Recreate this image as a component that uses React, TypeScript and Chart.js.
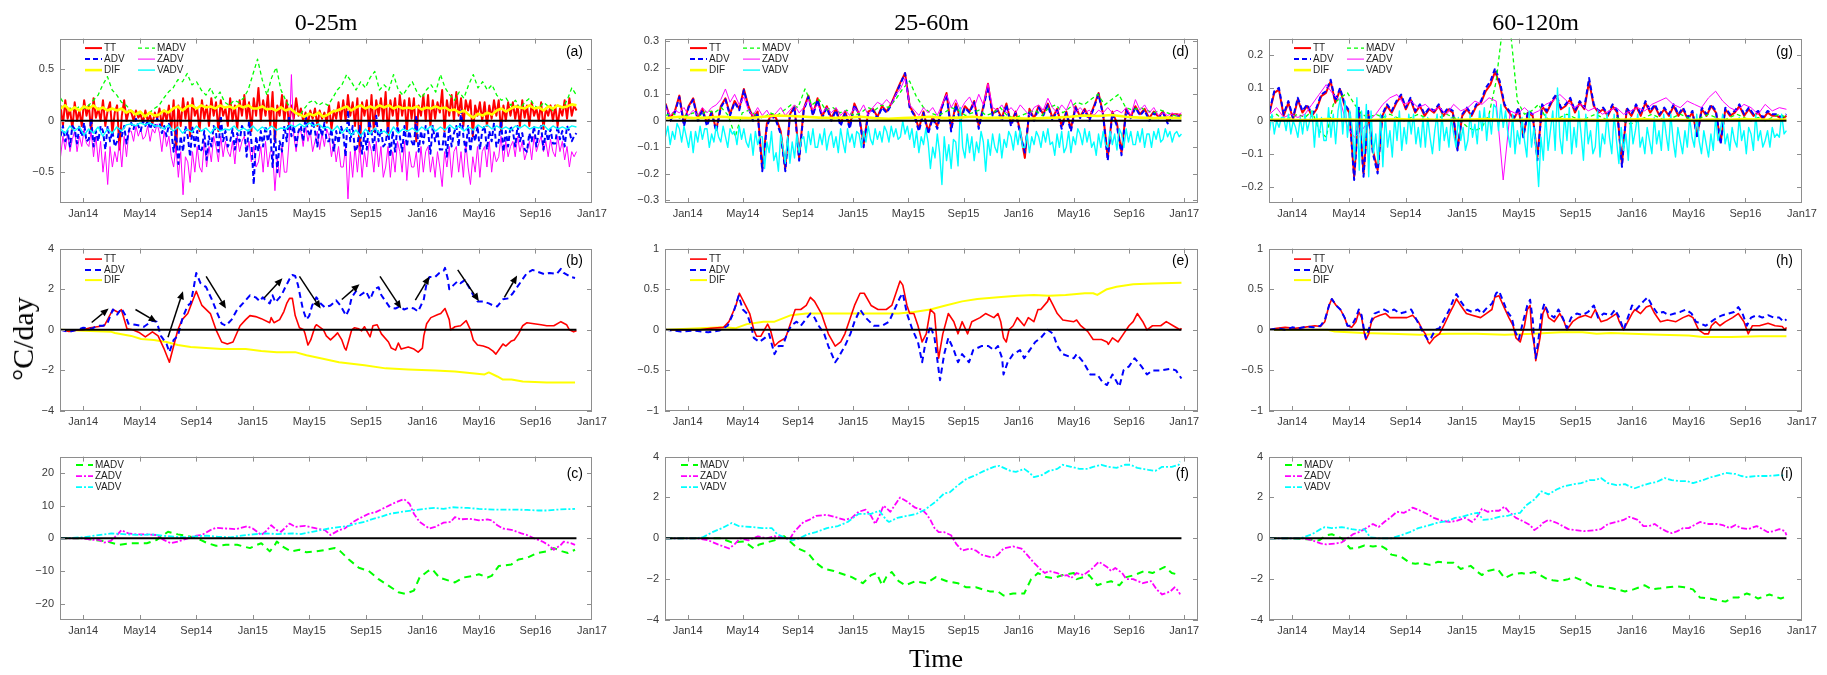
import React, { useEffect, useRef } from "react";
import { Chart, registerables } from "chart.js";
Chart.register(...registerables);

type Pair = [number, number];

// ---------- axes ----------
const X_TICKS = [0, 4, 8, 12, 16, 20, 24, 28, 32, 36]; // months since Jan 2014
const X_TICK_LABELS = ["Jan14", "May14", "Sep14", "Jan15", "May15", "Sep15", "Jan16", "May16", "Sep16", "Jan17"];
const X_MIN = -1.64;
const X_MAX_13 = 36;
const X_MAX_2 = 37;
const T_START = -1.6;
const T_END_13 = 34.9;
const T_END_2 = 35.8;

const Y_TICKS_A = [-0.5, 0, 0.5];
const Y_TICKS_D = [-0.3, -0.2, -0.1, 0, 0.1, 0.2, 0.3];
const Y_TICKS_G = [-0.2, -0.1, 0, 0.1, 0.2];
const Y_TICKS_B = [-4, -2, 0, 2, 4];
const Y_TICKS_EH = [-1, -0.5, 0, 0.5, 1];
const Y_TICKS_C = [-20, -10, 0, 10, 20];
const Y_TICKS_FI = [-4, -2, 0, 2, 4];

// ---------- panel (a) 0-25m daily terms (evenly spaced in time) ----------
const A_TT = [0.15,-0.05,0.2,0.02,0.12,-0.08,0.18,0.0,0.1,-0.05,0.2,0.05,0.15,-0.1,0.22,0.03,0.12,0.0,0.2,-0.05,0.1,0.18,-0.12,0.08,0.15,-0.28,0.05,0.2,0.0,0.1,0.08,0.0,0.1,0.03,0.06,-0.02,0.1,0.0,0.05,-0.03,0.08,0.02,0.12,-0.05,0.1,0.0,0.15,-0.08,0.2,-0.3,0.15,-0.05,0.22,0.02,0.18,-0.15,0.22,0.05,0.12,-0.1,0.2,0.02,0.15,-0.05,0.22,0.05,0.18,-0.1,0.2,0.05,0.12,-0.05,0.22,0.0,0.15,-0.08,0.2,0.05,0.25,0.02,0.18,-0.1,0.22,0.05,0.32,0.0,0.2,0.05,0.25,-0.05,0.28,-0.2,0.15,0.05,0.25,0.0,0.2,-0.05,0.15,0.02,0.22,0.05,0.12,0.0,0.08,-0.03,0.1,0.02,0.12,-0.05,0.1,0.02,0.08,-0.02,0.15,-0.08,0.1,0.02,0.18,0.0,0.2,0.0,0.25,0.05,0.18,-0.05,0.22,-0.3,0.18,0.05,0.2,-0.1,0.25,-0.1,0.2,0.05,0.22,0.0,0.28,-0.15,0.2,0.05,0.22,-0.05,0.25,0.05,0.2,-0.1,0.22,0.02,0.22,-0.2,0.15,0.05,0.25,0.0,0.25,-0.05,0.2,0.02,0.18,0.08,0.3,-0.1,0.2,0.05,0.25,0.0,0.28,0.05,0.22,-0.05,0.2,0.1,0.2,-0.15,0.15,0.05,0.18,0.0,0.18,-0.05,0.15,0.02,0.2,0.05,0.2,-0.1,0.15,0.0,0.18,0.05,0.18,0.02,0.15,-0.05,0.2,0.03,0.15,-0.05,0.18,0.05,0.12,0.0,0.18,-0.08,0.12,0.05,0.15,0.0,0.15,-0.05,0.12,0.05,0.2,0.02,0.22,0.05,0.15,0.1];
const A_ADV = [-0.15,-0.05,-0.2,-0.1,-0.25,-0.05,-0.08,-0.22,-0.05,-0.15,-0.02,-0.2,-0.18,0.02,-0.25,-0.1,-0.2,-0.05,-0.1,-0.28,-0.05,-0.2,-0.1,-0.25,-0.2,-0.08,-0.15,-0.05,-0.22,-0.1,-0.02,-0.08,0.02,-0.05,-0.1,0.0,-0.05,0.0,-0.08,-0.02,-0.06,0.02,-0.02,-0.12,-0.05,-0.15,-0.03,-0.1,-0.3,-0.1,-0.42,-0.15,-0.3,-0.05,-0.15,-0.35,-0.05,-0.25,-0.1,-0.3,-0.28,-0.1,-0.38,-0.15,-0.25,-0.05,-0.12,-0.3,0.05,-0.2,-0.1,-0.25,-0.2,-0.08,-0.28,-0.12,-0.2,-0.05,-0.1,-0.35,0.0,-0.2,-0.62,-0.15,-0.3,-0.1,-0.25,-0.05,-0.2,-0.1,-0.45,-0.1,-0.5,-0.2,-0.3,-0.05,-0.2,0.05,-0.15,-0.05,-0.25,-0.1,-0.05,-0.2,0.05,-0.1,-0.15,0.0,-0.1,-0.25,-0.05,-0.15,-0.02,-0.2,-0.2,-0.08,-0.3,-0.1,-0.22,-0.05,-0.12,-0.35,0.1,-0.2,-0.05,-0.3,-0.25,-0.05,-0.32,-0.12,-0.28,0.0,-0.1,-0.3,0.05,-0.2,-0.08,-0.25,-0.22,-0.05,-0.35,-0.1,-0.3,-0.05,-0.15,-0.3,-0.05,-0.25,-0.1,-0.2,-0.25,0.05,-0.3,-0.1,-0.22,-0.05,-0.1,-0.32,-0.05,-0.2,-0.1,-0.28,-0.28,-0.1,-0.35,-0.05,-0.25,-0.12,-0.05,-0.25,0.1,-0.15,-0.3,-0.05,-0.3,-0.1,-0.2,-0.05,-0.28,-0.1,-0.05,-0.28,-0.1,-0.2,-0.02,-0.25,-0.2,0.0,-0.3,-0.1,-0.25,-0.05,-0.1,-0.25,-0.05,-0.2,-0.12,-0.28,-0.3,-0.12,-0.2,-0.05,-0.25,-0.1,-0.05,-0.28,-0.1,-0.2,-0.08,-0.22,-0.22,-0.05,-0.18,-0.1,-0.25,-0.05,-0.1,-0.2,-0.15,-0.12];
const A_ZADV = [-0.35,-0.15,-0.28,-0.12,-0.3,-0.18,-0.1,-0.3,-0.15,-0.25,-0.08,-0.22,-0.25,-0.1,-0.35,-0.15,-0.4,-0.2,-0.5,-0.3,-0.62,-0.25,-0.45,-0.3,-0.4,-0.2,-0.45,-0.15,-0.35,-0.1,-0.1,-0.2,-0.05,-0.15,-0.08,-0.18,-0.15,-0.05,-0.2,-0.08,-0.12,-0.03,-0.12,-0.3,-0.1,-0.25,-0.15,-0.35,-0.45,-0.25,-0.55,-0.3,-0.72,-0.35,-0.4,-0.6,-0.3,-0.5,-0.25,-0.45,-0.5,-0.2,-0.45,-0.25,-0.4,-0.15,-0.25,-0.4,-0.15,-0.35,-0.2,-0.3,-0.35,-0.2,-0.42,-0.15,-0.3,-0.2,-0.15,-0.3,-0.2,-0.4,-0.25,-0.45,-0.4,-0.25,-0.5,-0.2,-0.45,-0.3,-0.3,-0.68,-0.35,-0.55,-0.25,-0.5,-0.5,-0.2,0.45,-0.15,-0.3,-0.1,-0.1,-0.25,-0.05,-0.2,-0.1,-0.3,-0.2,-0.1,-0.28,-0.12,-0.25,-0.08,-0.15,-0.35,-0.2,-0.4,-0.25,-0.45,-0.45,-0.25,-0.76,-0.3,-0.55,-0.25,-0.5,-0.25,-0.55,-0.3,-0.45,-0.2,-0.3,-0.5,-0.2,-0.45,-0.25,-0.55,-0.45,-0.25,-0.55,-0.3,-0.5,-0.2,-0.3,-0.5,-0.2,-0.58,-0.3,-0.45,-0.45,-0.3,-0.55,-0.25,-0.5,-0.3,-0.25,-0.5,-0.35,-0.55,-0.3,-0.45,-0.64,-0.3,-0.45,-0.25,-0.55,-0.3,-0.25,-0.5,-0.3,-0.55,-0.2,-0.45,-0.62,-0.35,-0.5,-0.25,-0.55,-0.3,-0.25,-0.45,-0.2,-0.5,-0.3,-0.4,-0.35,-0.15,-0.4,-0.2,-0.35,-0.25,-0.2,-0.35,-0.15,-0.3,-0.2,-0.38,-0.3,-0.2,-0.38,-0.15,-0.3,-0.22,-0.15,-0.3,-0.2,-0.35,-0.18,-0.3,-0.35,-0.15,-0.3,-0.2,-0.38,-0.25,-0.45,-0.3,-0.35,-0.3];
const A_DIF = [0.12,0.15,0.1,0.13,0.1,0.14,0.12,0.15,0.11,0.13,0.1,0.12,0.1,0.12,0.08,0.1,0.06,0.09,0.04,0.08,0.05,0.06,0.1,0.08,0.12,0.14,0.1,0.14,0.15,0.12,0.15,0.13,0.14,0.12,0.15,0.13,0.14,0.12,0.15,0.13,0.15,0.12,0.12,0.14,0.11,0.12,0.1,0.13,0.1,0.12,0.08,0.06,0.04,0.07,0.05,0.08,0.04,0.06,0.09,0.1,0.12,0.14,0.1,0.13,0.15,0.12,0.14,0.12,0.15,0.13,0.15,0.12,0.14,0.12,0.13,0.12,0.14,0.11,0.13,0.12,0.14,0.12,0.13,0.1,0.11,0.08,0.1,0.06,0.03,0.07,0.05,0.08,0.06,0.1,0.12,0.09,0.12,0.14,0.13,0.12,0.15,0.12,0.13,0.1,0.14,0.12,0.15,0.13,0.14,0.16,0.15];
const A_MADV = [0.22,0.15,0.12,0.1,0.14,0.12,0.15,0.2,0.25,0.35,0.43,0.3,0.25,0.18,0.15,0.1,0.08,0.06,0.05,0.08,0.12,0.15,0.22,0.28,0.32,0.4,0.38,0.46,0.35,0.38,0.3,0.25,0.32,0.22,0.28,0.18,0.15,0.2,0.18,0.22,0.3,0.45,0.6,0.4,0.25,0.42,0.52,0.3,0.2,0.12,0.08,0.05,0.12,0.18,0.2,0.15,0.18,0.15,0.22,0.3,0.35,0.45,0.38,0.3,0.38,0.32,0.42,0.48,0.3,0.35,0.3,0.45,0.3,0.25,0.32,0.38,0.28,0.22,0.3,0.35,0.28,0.45,0.32,0.25,0.2,0.28,0.22,0.35,0.45,0.32,0.38,0.3,0.35,0.25,0.2,0.22,0.15,0.2,0.12,0.18,0.22,0.15,0.12,0.18,0.14,0.1,0.15,0.12,0.2,0.32,0.25];
const A_VADV = [-0.08,-0.12,-0.05,-0.1,-0.06,-0.14,-0.08,-0.12,-0.06,-0.15,-0.08,-0.12,-0.06,-0.1,-0.04,-0.03,-0.05,-0.02,-0.04,-0.02,-0.05,-0.05,-0.08,-0.04,-0.1,-0.06,-0.12,-0.08,-0.11,-0.05,-0.1,-0.07,-0.12,-0.06,-0.1,-0.08,-0.09,-0.05,-0.1,-0.07,-0.1,-0.05,-0.1,-0.06,-0.09,-0.05,-0.09,-0.07,-0.08,-0.04,-0.06,-0.03,-0.06,-0.02,-0.05,-0.03,-0.07,-0.06,-0.1,-0.05,-0.12,-0.07,-0.14,-0.09,-0.15,-0.08,-0.13,-0.07,-0.12,-0.1,-0.14,-0.06,-0.12,-0.08,-0.1,-0.07,-0.11,-0.06,-0.09,-0.05,-0.1,-0.06,-0.09,-0.04,-0.08,-0.05,-0.1,-0.06,-0.09,-0.04,-0.07,-0.04,-0.08,-0.05,-0.08,-0.06,-0.09,-0.05,-0.07,-0.04,-0.08,-0.06,-0.07,-0.04,-0.09,-0.05,-0.08,-0.06,-0.08,-0.05,-0.06];

// ---------- panel (d) 25-60m ----------
const D_TT = [0.065,0.01,0.035,0.095,-0.01,0.055,0.085,0.01,0.045,-0.01,0.035,-0.035,0.055,0.085,0.025,0.075,0.045,0.12,0.055,0.01,0.035,-0.18,-0.01,0.025,0.01,-0.04,-0.18,0.025,0.055,-0.14,0.045,0.095,0.025,0.085,0.015,0.055,0.01,0.045,-0.01,0.035,-0.02,0.065,0.025,-0.09,0.035,0.045,0.015,0.055,0.035,0.065,0.105,0.145,0.18,0.055,0.025,-0.03,0.035,-0.04,0.015,-0.02,0.055,0.105,-0.03,0.065,0.01,0.055,0.035,0.075,-0.02,0.055,0.14,0.025,0.045,0.01,0.065,-0.01,0.035,-0.04,-0.14,0.045,0.01,0.055,0.025,0.065,0.01,0.045,-0.02,0.035,-0.03,0.055,0.015,0.045,0.01,0.055,0.105,0.025,-0.14,0.035,-0.01,-0.12,0.045,0.015,0.055,0.025,0.045,0.01,0.035,0.015,0.035,0.0,0.025,0.025,0.02];
const D_ADV = [0.06,0.0,0.03,0.09,-0.02,0.05,0.08,0.0,0.04,-0.02,0.03,-0.04,0.05,0.08,0.02,0.07,0.04,0.115,0.05,0.0,0.03,-0.19,-0.02,0.02,0.0,-0.05,-0.19,0.02,0.05,-0.15,0.04,0.09,0.02,0.08,0.01,0.05,0.0,0.04,-0.02,0.03,-0.03,0.06,0.02,-0.1,0.03,0.04,0.01,0.05,0.03,0.06,0.1,0.14,0.18,0.05,0.02,-0.04,0.03,-0.05,0.01,-0.03,0.05,0.1,-0.04,0.06,0.0,0.05,0.03,0.07,-0.03,0.05,0.13,0.02,0.04,0.0,0.06,-0.02,0.03,-0.05,-0.12,0.04,0.0,0.05,0.02,0.06,0.0,0.04,-0.03,0.03,-0.04,0.05,0.01,0.04,0.0,0.05,0.1,0.02,-0.15,0.03,-0.02,-0.13,0.04,0.01,0.05,0.02,0.04,0.0,0.03,0.01,0.03,-0.01,0.02,0.02,0.01];
const D_ZADV = [0.05,0.02,0.04,0.03,0.05,0.02,0.04,0.02,0.05,0.03,0.05,0.06,0.08,0.12,0.07,0.1,0.06,0.09,0.04,0.02,0.05,0.02,0.04,0.01,0.03,0.05,0.02,0.04,0.06,0.03,0.05,0.08,0.04,0.06,0.03,0.05,0.03,0.05,0.02,0.04,0.02,0.05,0.03,0.06,0.02,0.05,0.07,0.06,0.08,0.06,0.1,0.12,0.16,0.06,0.04,0.02,0.05,0.03,0.05,0.02,0.06,0.1,0.05,0.08,0.04,0.07,0.09,0.05,0.1,0.06,0.14,0.05,0.04,0.06,0.03,0.05,0.03,0.06,0.04,0.02,0.05,0.06,0.04,0.085,0.05,0.03,0.06,0.04,0.08,0.03,0.05,0.03,0.04,0.02,0.04,0.03,0.05,0.03,0.04,0.03,0.05,0.02,0.08,0.04,0.06,0.03,0.05,0.02,0.03,0.02,0.03,0.02,0.03];
const D_VADV = [-0.06,-0.02,-0.09,-0.04,-0.07,-0.01,-0.03,-0.08,-0.02,-0.06,-0.1,-0.04,-0.12,-0.04,-0.08,-0.02,-0.07,-0.03,-0.03,-0.1,-0.05,-0.08,-0.02,-0.06,-0.08,-0.02,-0.06,-0.1,-0.03,-0.05,-0.04,-0.09,-0.02,-0.07,-0.03,-0.08,-0.1,-0.05,-0.13,-0.04,-0.09,-0.06,-0.06,-0.18,-0.08,-0.12,-0.04,-0.15,-0.12,-0.19,-0.05,-0.1,-0.16,-0.06,-0.16,-0.08,-0.14,-0.05,-0.12,-0.07,-0.06,-0.12,-0.04,-0.09,-0.03,-0.1,-0.1,-0.05,-0.09,-0.03,-0.11,-0.06,-0.04,-0.1,-0.06,-0.12,-0.03,-0.08,-0.12,-0.03,-0.08,-0.05,-0.1,-0.04,-0.05,-0.1,-0.04,-0.08,-0.02,-0.07,-0.09,-0.03,-0.07,-0.04,-0.08,-0.02,-0.04,-0.08,-0.02,-0.06,-0.03,-0.07,-0.06,0.0,-0.05,-0.02,-0.07,-0.03,-0.1,-0.04,-0.12,-0.06,-0.09,-0.03,-0.08,-0.18,-0.1,-0.14,-0.05,-0.12,-0.24,-0.06,-0.15,-0.09,-0.18,-0.07,-0.08,-0.17,0.05,-0.1,-0.14,-0.05,-0.12,-0.06,-0.15,-0.08,-0.12,-0.04,-0.08,-0.19,-0.07,-0.13,-0.05,-0.1,-0.12,-0.05,-0.14,-0.07,-0.1,-0.04,-0.06,-0.11,-0.04,-0.09,-0.03,-0.1,-0.1,-0.05,-0.12,-0.06,-0.09,-0.04,-0.06,-0.1,-0.04,-0.08,-0.03,-0.09,-0.08,-0.13,-0.05,-0.1,-0.04,-0.12,-0.1,-0.04,-0.12,-0.06,-0.09,-0.03,-0.05,-0.09,-0.03,-0.08,-0.04,-0.1,-0.08,-0.13,-0.05,-0.1,-0.04,-0.09,-0.1,-0.04,-0.09,-0.05,-0.11,-0.03,-0.05,-0.1,-0.03,-0.08,-0.04,-0.09,-0.09,-0.04,-0.08,-0.03,-0.1,-0.05,-0.05,-0.1,-0.04,-0.07,-0.03,-0.08,-0.07,-0.03,-0.06,-0.04,-0.08,-0.05,-0.04,-0.06,-0.05];
const D_MADV = [0.02,0.03,0.01,0.02,0.03,0.02,0.04,0.03,0.05,0.02,-0.06,0.03,0.04,0.02,0.01,0.03,0.02,0.04,0.06,0.05,0.12,0.06,0.08,0.04,0.05,0.03,0.04,0.02,0.03,0.05,0.04,0.06,0.05,0.08,0.12,0.15,0.09,0.05,0.03,0.02,0.03,0.05,0.04,0.02,0.03,0.04,0.02,0.03,0.05,0.02,0.01,0.02,0.03,0.04,0.02,0.05,0.06,0.03,0.05,0.07,0.06,0.08,0.1,0.06,0.08,0.1,0.05,0.04,0.05,0.04,0.03,0.04,0.03,0.02,0.02];
const D_DIF = [0.01,0.015,0.01,0.012,0.015,0.012,0.01,0.015,0.02,0.018,0.015,0.012,0.01,0.012,0.015,0.01,0.008,0.01,0.012,0.015,0.01,0.012,0.015,0.01,0.012,0.01,0.008,0.01,0.012,0.015,0.02,0.018,0.022,0.015,0.012,0.01,0.012,0.01];

// ---------- panel (g) 60-120m ----------
const G_TT = [0.025,0.085,0.095,0.015,0.055,0.005,0.065,0.025,0.045,0.015,0.035,0.075,0.085,0.12,0.055,0.095,0.045,0.025,-0.17,0.035,-0.16,0.025,-0.09,-0.15,0.015,0.045,0.025,0.055,0.075,0.035,0.065,0.025,0.045,0.015,0.035,0.025,0.045,0.015,0.035,0.025,-0.085,0.015,0.035,0.015,0.045,0.055,0.09,0.11,0.15,0.11,0.045,0.025,0.005,0.035,-0.045,0.025,0.015,-0.11,0.045,0.025,0.055,0.075,0.035,0.045,0.065,0.025,0.055,0.035,0.12,0.045,0.025,0.035,0.015,0.045,0.025,-0.13,0.035,0.015,0.045,0.015,0.055,0.025,0.045,0.015,0.035,0.015,0.045,0.015,0.035,0.005,0.025,-0.045,0.035,0.015,0.045,0.025,-0.065,0.035,0.015,0.025,0.045,0.015,0.035,0.015,0.025,0.005,0.025,0.015,0.015,0.005,0.015];
const G_ADV = [0.03,0.09,0.1,0.02,0.06,0.01,0.07,0.03,0.05,0.02,0.04,0.08,0.09,0.125,0.06,0.1,0.05,0.03,-0.18,0.04,-0.17,0.03,-0.1,-0.16,0.02,0.05,0.03,0.06,0.08,0.04,0.07,0.03,0.05,0.02,0.04,0.03,0.05,0.02,0.04,0.03,-0.09,0.02,0.04,0.02,0.05,0.06,0.1,0.12,0.16,0.12,0.05,0.03,0.01,0.04,-0.05,0.03,0.02,-0.12,0.05,0.03,0.06,0.08,0.04,0.05,0.07,0.03,0.06,0.04,0.13,0.05,0.03,0.04,0.02,0.05,0.03,-0.14,0.04,0.02,0.05,0.02,0.06,0.03,0.05,0.02,0.04,0.02,0.05,0.02,0.04,0.01,0.03,-0.05,0.04,0.02,0.05,0.03,-0.07,0.04,0.02,0.03,0.05,0.02,0.04,0.02,0.03,0.01,0.03,0.02,0.02,0.01,0.02];
const G_VADV = [-0.03,0.02,-0.04,0.0,-0.02,0.01,0.01,-0.03,0.02,-0.04,0.0,-0.02,-0.05,0.01,-0.04,0.02,-0.03,0.0,0.03,-0.08,0.02,-0.05,0.01,-0.06,-0.06,0.04,-0.05,0.02,-0.07,0.03,0.07,-0.04,0.06,-0.05,0.03,-0.02,-0.12,0.07,-0.15,0.03,-0.1,0.05,-0.17,0.03,-0.1,-0.04,-0.13,0.02,-0.14,0.02,-0.08,-0.03,-0.11,0.01,-0.06,0.03,-0.09,-0.02,-0.07,0.02,-0.04,0.02,-0.07,-0.02,-0.08,0.01,-0.08,0.01,-0.05,-0.1,-0.03,0.02,-0.09,0.02,-0.06,-0.02,-0.08,0.01,-0.04,-0.08,0.01,-0.06,-0.02,-0.09,-0.06,0.02,-0.05,-0.01,-0.07,0.03,-0.03,0.04,-0.06,0.02,-0.04,0.05,0.04,-0.03,0.05,-0.02,0.03,-0.04,-0.08,0.02,-0.1,-0.03,-0.07,0.01,-0.06,-0.11,0.03,-0.08,-0.02,-0.09,-0.2,-0.05,-0.12,0.02,-0.09,-0.03,0.03,-0.09,0.1,-0.05,-0.1,0.02,-0.06,0.04,-0.1,-0.02,-0.08,0.03,-0.04,-0.12,0.02,-0.07,-0.03,-0.1,-0.08,0.03,-0.11,-0.04,-0.07,0.02,-0.05,-0.1,0.02,-0.06,-0.13,-0.02,-0.09,-0.04,-0.12,0.01,-0.07,-0.03,0.02,-0.08,-0.05,-0.1,-0.02,-0.06,-0.1,0.01,-0.07,-0.03,-0.09,0.02,-0.04,-0.09,0.02,-0.06,-0.11,-0.02,-0.06,-0.1,-0.03,-0.08,0.01,-0.05,-0.08,0.02,-0.06,-0.1,-0.03,-0.07,-0.11,-0.04,-0.09,0.01,-0.06,-0.03,0.02,-0.07,-0.04,-0.09,-0.02,-0.06,-0.08,0.01,-0.06,-0.03,-0.1,-0.02,-0.04,-0.09,0.02,-0.06,-0.03,-0.08,-0.06,-0.03,-0.08,-0.02,-0.05,-0.04,-0.05,0.02,-0.04,-0.03];
const G_ZADV = [0.02,0.04,0.01,0.02,0.01,0.02,0.05,0.08,0.11,0.08,0.06,-0.02,-0.05,-0.03,0.0,0.02,0.05,0.07,0.08,0.05,0.06,0.04,0.05,0.03,0.04,0.02,0.05,0.03,0.04,0.06,0.05,0.07,0.06,-0.18,0.03,0.02,0.04,0.02,0.03,0.05,0.06,0.08,0.06,0.04,0.05,0.03,0.04,0.02,0.03,0.04,0.02,0.03,0.04,0.03,0.05,0.06,0.07,0.05,0.04,0.06,0.05,0.04,0.07,0.09,0.06,0.04,0.03,0.05,0.04,0.02,0.05,0.03,0.04,0.035];
const G_MADV = [0.01,0.02,0.0,0.01,0.02,0.01,0.03,-0.03,-0.05,0.05,0.07,0.085,0.05,0.02,0.01,0.02,0.01,0.02,0.01,0.0,0.01,0.02,0.01,0.0,0.01,0.02,0.01,0.0,-0.02,-0.03,-0.02,0.02,0.12,0.3,0.28,0.06,0.02,0.03,0.05,0.01,0.0,0.01,0.02,0.01,0.0,0.01,0.02,0.01,0.0,0.01,0.0,-0.01,0.0,0.01,0.02,0.01,0.0,0.01,0.02,0.01,0.0,0.01,0.02,0.01,0.0,0.01,0.02,0.01,0.0,0.01,0.0,0.01,0.02,0.01];
const G_DIF = [0.003,0.004,0.002,0.003,0.005,0.004,0.003,0.002,0.004,0.005,0.003,0.004,0.002,0.003,0.004,0.005,0.003,0.002,0.004,0.003,0.005,0.004,0.003,0.002,0.003,0.004,0.005,0.003,0.004,0.002,0.003,0.004,0.003,0.005,0.004,0.003,0.004];

// ---------- panel (b) cumulative 0-25m  [month, value] ----------
const B_TT: Pair[] = [[-1.6,0],[-1.0,-0.08],[-0.5,-0.02],[0,0.0],[0.5,0.1],[1.0,0.15],[1.5,0.2],[2.1,1.0],[2.5,0.85],[2.7,1.0],[3.1,0.05],[3.5,0.0],[4.0,-0.15],[4.4,-0.35],[4.9,-0.1],[5.3,-0.3],[5.7,-0.9],[6.1,-1.6],[6.7,0.0],[7.0,0.5],[7.4,0.8],[8.0,1.9],[8.4,1.2],[9.0,0.8],[9.4,0.0],[9.8,-0.6],[10.2,-0.7],[10.6,-0.6],[11.1,0.2],[11.5,0.5],[11.8,0.7],[12.2,0.65],[12.6,0.55],[13.2,0.35],[13.3,0.6],[13.5,0.35],[13.9,0.5],[14.2,0.9],[14.4,1.3],[14.6,1.55],[14.8,1.55],[15.0,0.7],[15.3,0.1],[15.6,0.0],[15.7,-0.2],[15.9,-0.75],[16.1,-0.5],[16.4,0.15],[16.5,0.25],[17.0,0.0],[17.2,-0.3],[17.5,-0.5],[17.8,-0.3],[18.0,-0.15],[18.3,-0.5],[18.5,-0.9],[18.6,-1.0],[18.8,-0.5],[19.0,0.0],[19.2,0.1],[19.5,0.05],[19.7,-0.05],[19.9,0.15],[20.3,-0.35],[20.5,0.2],[20.8,0.25],[21.1,-0.2],[21.6,-0.6],[21.8,-0.9],[22.1,-1.0],[22.3,-0.65],[22.5,-0.95],[23.0,-0.85],[23.4,-0.95],[23.7,-1.1],[24.0,-0.9],[24.1,-0.3],[24.3,0.3],[24.6,0.6],[25.1,0.75],[25.3,0.8],[25.6,1.05],[25.9,0.5],[26.0,0.0],[26.3,0.15],[26.7,0.2],[27.1,0.45],[27.4,0.0],[27.6,-0.5],[27.9,-0.75],[28.3,-0.8],[28.7,-0.9],[29.0,-1.05],[29.2,-1.2],[29.5,-0.9],[29.7,-0.7],[29.9,-0.8],[30.3,-0.55],[30.5,-0.5],[30.8,-0.2],[31.1,0.2],[31.4,0.35],[31.9,0.3],[32.4,0.25],[32.8,0.2],[33.3,0.2],[33.8,0.4],[34.2,0.25],[34.4,0.0],[34.7,-0.1],[34.9,-0.05]];
const B_ADV: Pair[] = [[-1.6,0],[-1.0,-0.1],[-0.4,0.0],[0,0.1],[0.6,0.05],[1.0,0.2],[1.4,0.2],[1.7,0.3],[2.1,1.0],[2.4,0.75],[2.7,1.05],[3.0,0.7],[3.2,0.3],[3.7,0.25],[4.1,0.2],[4.3,0.15],[4.9,0.45],[5.2,0.4],[5.5,-0.3],[5.9,-0.7],[6.1,-1.1],[6.4,-0.5],[6.7,-0.3],[7.0,0.5],[7.1,0.7],[7.4,1.2],[7.6,1.3],[7.8,2.0],[8.0,2.8],[8.3,2.3],[8.7,2.1],[9.1,1.5],[9.5,0.8],[9.8,0.3],[10.1,0.2],[10.5,0.5],[10.9,1.0],[11.3,1.3],[11.8,1.7],[12.2,1.6],[12.5,1.4],[12.7,1.6],[13.0,1.4],[13.2,1.3],[13.4,1.7],[13.6,1.35],[13.9,1.6],[14.1,1.8],[14.3,2.1],[14.6,2.5],[14.8,2.7],[15.0,2.65],[15.2,2.2],[15.4,1.5],[15.55,1.0],[15.8,0.5],[16.0,0.7],[16.2,1.2],[16.5,1.6],[16.8,1.3],[17.1,1.1],[17.5,1.2],[17.9,1.45],[18.2,1.2],[18.6,0.7],[18.8,1.0],[19.0,1.6],[19.3,1.9],[19.6,1.7],[20.0,1.9],[20.3,1.5],[20.6,2.0],[20.9,2.1],[21.1,1.7],[21.4,1.4],[21.7,1.1],[22.1,1.05],[22.4,1.15],[22.7,1.0],[23.1,1.1],[23.4,1.05],[23.7,0.9],[23.9,1.2],[24.1,1.5],[24.3,2.3],[24.5,2.6],[24.9,2.6],[25.2,2.8],[25.5,2.9],[25.6,3.05],[25.8,2.5],[25.9,2.0],[26.2,2.2],[26.5,2.4],[26.7,2.3],[27.0,2.45],[27.3,2.1],[27.6,1.7],[27.9,1.4],[28.3,1.4],[28.7,1.3],[29.0,1.2],[29.3,1.15],[29.7,1.5],[30.1,1.55],[30.4,1.8],[30.6,2.0],[31.0,2.4],[31.4,2.8],[31.8,2.95],[32.2,2.85],[32.6,2.75],[33.0,2.8],[33.5,2.75],[33.8,3.0],[34.0,2.8],[34.5,2.6],[34.8,2.55]];
const B_DIF: Pair[] = [[-1.6,0],[0,-0.05],[2.0,-0.1],[2.25,-0.16],[3.4,-0.3],[4.1,-0.45],[5.0,-0.5],[5.9,-0.6],[6.7,-0.75],[7.6,-0.85],[8.7,-0.9],[9.8,-0.95],[11.5,-0.95],[12.6,-1.05],[13.7,-1.1],[15.0,-1.1],[15.8,-1.25],[16.8,-1.4],[18.1,-1.6],[19.9,-1.75],[21.4,-1.9],[23.0,-1.95],[24.9,-2.0],[26.3,-2.05],[27.7,-2.15],[28.4,-2.2],[28.7,-2.1],[29.3,-2.3],[29.7,-2.45],[30.3,-2.45],[31.1,-2.55],[32.8,-2.6],[34.8,-2.6]];
// arrows drawn on panel (b): [month0, value0, month1, value1]
const B_ARROWS: number[][] = [[0.6,0.36,1.8,1.05],[3.7,1.0,5.2,0.39],[6.0,-0.37,7.06,1.9],[8.7,2.63,10.1,1.05],[12.8,1.57,14.1,2.54],[15.3,2.63,16.8,1.05],[18.3,1.49,19.55,2.25],[21.0,2.63,22.5,1.05],[23.5,1.46,24.5,2.63],[26.5,2.95,28.0,1.41],[29.8,1.6,30.7,2.67]];

// ---------- panel (c) ----------
const C_MADV: Pair[] = [[-1.6,0],[0,0],[0.8,-0.5],[1.7,-1.0],[2.5,-2.0],[3.4,-1.5],[4.5,-1.5],[5.2,-0.5],[6.0,2.0],[6.7,1.2],[7.6,0.5],[8.3,-0.5],[8.8,-1.5],[9.4,-2.3],[10.1,-2.0],[10.9,-2.0],[11.8,-3.0],[12.3,-2.0],[12.6,-1.5],[13.2,-4.0],[13.5,-2.5],[13.7,-1.0],[14.1,-2.5],[14.7,-4.0],[15.3,-3.5],[15.8,-4.3],[16.5,-4.0],[17.2,-3.5],[17.8,-3.0],[18.2,-4.0],[18.8,-6.5],[19.5,-9.0],[20.2,-10.0],[20.9,-12.5],[21.6,-14.5],[22.3,-16.5],[22.8,-17.0],[23.4,-16.0],[23.8,-12.0],[24.4,-10.0],[24.7,-9.5],[25.2,-12.0],[25.9,-13.0],[26.3,-13.5],[26.9,-12.0],[27.6,-11.5],[28.0,-11.0],[28.6,-12.0],[28.9,-11.5],[29.4,-8.5],[30.3,-8.0],[30.8,-6.5],[31.4,-6.0],[32.1,-4.5],[32.8,-4.0],[33.3,-3.0],[33.9,-4.0],[34.3,-4.5],[34.8,-3.5]];
const C_ZADV: Pair[] = [[-1.6,0],[0,0],[0.7,-0.5],[1.1,-0.5],[1.5,-1.3],[1.96,-0.8],[2.4,1.0],[2.7,2.5],[3.2,1.5],[3.8,1.2],[4.5,1.2],[5.2,1.0],[5.7,-0.5],[6.2,-1.5],[6.7,-1.0],[7.4,0.0],[8.0,0.8],[8.4,1.0],[9.0,2.5],[9.4,3.2],[10.1,3.0],[10.8,2.8],[11.6,3.7],[12.0,3.0],[12.6,1.0],[12.9,2.0],[13.3,4.0],[13.7,2.5],[14.0,2.0],[14.6,4.5],[15.0,3.5],[15.7,3.8],[16.5,3.0],[17.1,2.5],[17.5,1.0],[18.1,2.5],[18.5,3.0],[19.1,5.0],[19.5,6.0],[20.2,7.5],[20.7,8.0],[21.4,9.5],[22.1,11.0],[22.7,12.0],[23.1,10.5],[23.4,7.5],[23.8,5.0],[24.5,3.0],[24.9,3.5],[25.5,4.8],[26.0,5.0],[26.3,6.5],[26.7,5.8],[27.3,6.0],[28.0,5.5],[28.6,5.8],[28.9,5.5],[29.3,4.0],[29.7,3.0],[30.4,2.5],[31.0,1.5],[31.4,1.0],[31.9,0.0],[32.5,-1.0],[32.9,-2.0],[33.3,-3.5],[33.8,-2.0],[34.0,-1.0],[34.5,-1.5],[34.8,-2.0]];
const C_VADV: Pair[] = [[-1.6,0],[0,0.3],[0.8,0.8],[2.0,1.5],[3.1,1.2],[4.2,1.0],[4.8,1.2],[5.6,0.8],[6.4,0.5],[7.3,0.3],[8.0,0.6],[8.7,0.8],[9.5,0.5],[10.4,0.3],[11.2,0.8],[12.0,1.2],[12.9,1.5],[13.7,1.3],[14.8,1.5],[15.4,1.3],[16.2,2.0],[16.8,2.5],[17.4,3.0],[18.2,3.5],[18.8,3.8],[19.3,4.5],[19.9,5.0],[20.4,5.8],[21.0,6.5],[21.7,7.5],[22.4,8.0],[23.2,8.5],[24.1,9.0],[24.9,9.3],[25.5,9.0],[26.1,9.5],[27.2,9.3],[28.0,9.0],[29.1,8.8],[30.3,8.8],[31.4,8.7],[32.2,8.5],[32.8,8.5],[33.6,8.8],[34.8,9.0]];

// ---------- panel (e) ----------
const E_TT: Pair[] = [[-1.6,0],[0.9,0.0],[1.7,0.02],[2.6,0.03],[3.0,0.1],[3.5,0.3],[3.75,0.45],[4.2,0.3],[4.5,0.2],[4.8,0.0],[5.0,-0.08],[5.3,-0.08],[5.8,0.07],[6.0,0.0],[6.3,-0.2],[6.6,-0.15],[7.1,-0.1],[7.5,0.1],[7.8,0.25],[8.2,0.25],[8.6,0.3],[8.9,0.4],[9.2,0.35],[9.7,0.2],[9.9,0.1],[10.2,-0.05],[10.7,-0.2],[11.1,-0.15],[11.4,-0.05],[11.7,0.1],[12.1,0.3],[12.5,0.45],[12.8,0.45],[13.3,0.3],[13.8,0.25],[14.4,0.25],[14.8,0.3],[15.1,0.45],[15.4,0.6],[15.6,0.55],[15.9,0.3],[16.1,0.2],[16.4,0.2],[16.7,0.05],[17.0,-0.15],[17.3,-0.05],[17.6,0.25],[17.9,0.2],[18.1,-0.2],[18.2,-0.35],[18.5,-0.05],[18.9,0.2],[19.3,0.1],[19.6,-0.05],[19.9,0.1],[20.3,-0.05],[20.6,0.1],[21.2,0.15],[21.6,0.2],[22.2,0.15],[22.5,0.2],[22.7,0.1],[22.9,-0.1],[23.1,-0.15],[23.3,0.0],[23.6,0.05],[23.9,0.15],[24.4,0.05],[24.7,0.15],[25.1,0.1],[25.4,0.25],[25.6,0.25],[26.1,0.35],[26.2,0.4],[26.5,0.3],[26.8,0.2],[27.2,0.12],[28.0,0.1],[28.2,0.12],[28.5,0.05],[29.0,-0.02],[29.4,-0.12],[30.0,-0.12],[30.4,-0.15],[30.5,-0.18],[30.8,-0.1],[31.2,-0.15],[31.6,-0.05],[32.0,0.05],[32.3,0.1],[32.6,0.2],[33.0,0.1],[33.3,0.0],[33.7,0.05],[34.3,0.05],[34.7,0.1],[35.2,0.05],[35.7,0.0],[35.8,0.02]];
const E_ADV: Pair[] = [[-1.6,0],[-0.5,-0.02],[0.5,-0.01],[1.5,-0.03],[2.3,-0.01],[2.9,0.05],[3.3,0.2],[3.7,0.42],[4.0,0.25],[4.3,0.2],[4.6,0.05],[4.8,-0.1],[5.2,-0.15],[5.6,-0.1],[5.9,-0.05],[6.3,-0.3],[6.6,-0.2],[6.9,-0.2],[7.2,-0.05],[7.5,0.05],[7.9,0.1],[8.2,0.05],[8.9,0.2],[9.2,0.15],[9.5,0.05],[9.9,-0.05],[10.2,-0.2],[10.7,-0.4],[10.9,-0.35],[11.4,-0.2],[11.8,-0.05],[12.1,0.1],[12.5,0.25],[12.9,0.15],[13.5,0.05],[14.1,0.05],[14.6,0.1],[15.0,0.25],[15.4,0.4],[15.6,0.45],[15.9,0.2],[16.3,0.0],[16.7,-0.15],[17.0,-0.4],[17.2,-0.2],[17.6,0.05],[17.9,-0.1],[18.2,-0.5],[18.3,-0.62],[18.6,-0.3],[18.9,-0.1],[19.3,-0.25],[19.6,-0.4],[19.9,-0.3],[20.4,-0.4],[20.7,-0.25],[21.3,-0.2],[21.8,-0.2],[22.2,-0.25],[22.5,-0.2],[22.8,-0.35],[22.9,-0.55],[23.2,-0.4],[23.6,-0.3],[24.1,-0.25],[24.4,-0.35],[24.8,-0.25],[25.2,-0.15],[25.6,-0.1],[26.1,0.0],[26.5,-0.05],[26.8,-0.2],[27.2,-0.3],[28.0,-0.35],[28.2,-0.3],[28.7,-0.4],[29.2,-0.55],[29.7,-0.55],[30.1,-0.65],[30.4,-0.68],[30.8,-0.55],[31.3,-0.7],[31.6,-0.5],[32.0,-0.45],[32.4,-0.35],[32.9,-0.45],[33.3,-0.55],[33.7,-0.5],[34.3,-0.5],[35.0,-0.48],[35.4,-0.5],[35.8,-0.6]];
const E_DIF: Pair[] = [[-1.6,0],[0.9,0.02],[2.6,0.03],[3.5,0.02],[4.3,0.07],[5.5,0.1],[6.3,0.1],[7.5,0.18],[8.6,0.2],[10.4,0.2],[11.8,0.2],[13.5,0.2],[15.3,0.2],[16.4,0.22],[17.6,0.25],[18.7,0.3],[19.9,0.35],[21.0,0.38],[22.5,0.4],[23.9,0.42],[25.1,0.43],[26.2,0.42],[27.4,0.43],[28.8,0.45],[29.4,0.45],[29.7,0.43],[30.4,0.5],[31.1,0.53],[32.3,0.56],[33.7,0.57],[35.8,0.58]];

// ---------- panel (f) ----------
const F_MADV: Pair[] = [[-1.6,0],[2.4,0],[3.2,-0.2],[4.1,-0.15],[4.8,-0.5],[5.2,-0.3],[6.3,-0.1],[7.0,0.1],[8.0,-0.5],[8.7,-0.7],[9.3,-1.2],[9.9,-1.5],[10.6,-1.6],[11.9,-1.9],[12.7,-2.2],[13.3,-1.8],[13.7,-1.7],[14.1,-2.3],[14.4,-1.9],[14.8,-1.65],[15.3,-2.1],[15.8,-2.3],[16.5,-2.1],[17.3,-2.2],[18.0,-1.9],[18.8,-2.1],[19.6,-2.2],[20.2,-2.4],[20.9,-2.4],[21.9,-2.6],[22.5,-2.6],[22.9,-2.8],[23.6,-2.7],[24.4,-2.7],[24.9,-2.0],[25.4,-1.7],[26.0,-1.9],[26.5,-1.95],[27.2,-1.8],[28.0,-1.7],[28.2,-2.0],[28.7,-1.9],[29.1,-1.8],[29.7,-2.3],[30.1,-2.2],[30.7,-2.1],[31.3,-2.3],[31.8,-1.9],[32.4,-1.8],[33.1,-1.6],[33.7,-1.7],[34.6,-1.4],[35.1,-1.7],[35.7,-1.8]];
const F_ZADV: Pair[] = [[-1.6,0],[0.7,0],[1.5,-0.1],[2.2,-0.3],[3.0,-0.5],[3.4,-0.3],[3.8,0.0],[4.4,-0.1],[5.1,0.1],[5.7,0.0],[6.3,0.1],[7.1,0.0],[7.4,-0.05],[7.7,0.3],[8.4,0.8],[8.8,0.9],[9.3,1.1],[10.1,1.15],[10.9,1.0],[11.4,0.9],[11.9,1.0],[12.4,1.3],[12.9,1.4],[13.3,1.1],[13.6,0.7],[13.9,1.1],[14.2,1.6],[14.7,1.3],[15.0,1.6],[15.4,2.0],[15.9,1.8],[16.5,1.5],[17.0,1.4],[17.3,1.2],[17.6,0.9],[17.9,0.5],[18.2,0.3],[18.6,0.3],[19.1,0.15],[19.5,-0.3],[19.9,-0.6],[20.5,-0.5],[20.9,-0.6],[21.3,-0.8],[22.1,-0.95],[22.5,-0.8],[22.9,-0.5],[23.6,-0.4],[24.2,-0.5],[24.6,-0.8],[25.1,-1.2],[25.7,-1.6],[25.9,-1.7],[26.2,-1.6],[26.8,-1.7],[27.2,-1.85],[27.5,-1.8],[27.8,-1.95],[28.2,-1.7],[28.7,-1.8],[29.3,-1.5],[29.8,-1.15],[30.4,-1.4],[30.7,-1.6],[31.0,-1.45],[31.5,-1.7],[31.8,-2.0],[32.3,-2.0],[33.0,-2.2],[33.6,-2.1],[34.0,-2.5],[34.4,-2.75],[35.0,-2.6],[35.3,-2.4],[35.6,-2.6],[35.7,-2.75]];
const F_VADV: Pair[] = [[-1.6,0],[0.6,0],[1.1,0.05],[1.8,0.3],[2.5,0.5],[3.2,0.75],[3.7,0.6],[4.7,0.55],[5.4,0.5],[6.1,0.5],[6.5,0.2],[7.0,0.05],[7.6,-0.1],[8.1,0.0],[8.7,0.2],[9.3,0.3],[10.1,0.5],[10.9,0.6],[11.6,0.8],[12.0,1.0],[12.4,1.2],[13.3,1.2],[13.9,1.35],[14.4,0.9],[14.6,0.8],[15.2,1.0],[15.9,1.1],[16.6,1.2],[17.2,1.4],[17.6,1.6],[18.0,1.8],[18.6,2.2],[19.0,2.25],[19.6,2.6],[20.2,2.9],[20.9,3.1],[21.5,3.3],[22.2,3.5],[22.6,3.55],[23.4,3.3],[23.8,3.25],[24.4,3.4],[24.8,3.2],[25.1,3.0],[25.7,3.1],[26.2,3.3],[26.8,3.4],[27.2,3.6],[27.8,3.5],[28.4,3.4],[29.0,3.4],[29.4,3.5],[30.0,3.6],[30.5,3.5],[31.1,3.45],[31.7,3.6],[32.1,3.6],[32.6,3.45],[33.4,3.35],[33.9,3.3],[34.4,3.5],[35.1,3.5],[35.6,3.6],[35.7,3.75]];

// ---------- panel (h) ----------
const H_TT: Pair[] = [[-1.6,0],[-1.1,0.02],[-0.5,0.03],[0.2,0.02],[0.8,0.03],[1.6,0.05],[2.0,0.04],[2.3,0.1],[2.6,0.3],[2.8,0.38],[3.1,0.3],[3.4,0.25],[3.7,0.15],[3.9,0.05],[4.2,0.03],[4.5,0.1],[4.7,0.22],[4.9,0.15],[5.1,-0.05],[5.2,-0.12],[5.4,-0.05],[5.6,0.1],[5.8,0.15],[6.2,0.18],[6.6,0.2],[6.9,0.15],[7.4,0.15],[8.1,0.15],[8.5,0.18],[8.9,0.1],[9.2,0.0],[9.4,-0.05],[9.6,-0.15],[9.7,-0.17],[10.0,-0.1],[10.4,-0.05],[10.7,0.05],[11.1,0.2],[11.4,0.3],[11.6,0.38],[11.9,0.3],[12.3,0.2],[12.7,0.18],[13.3,0.15],[13.7,0.2],[14.1,0.25],[14.3,0.4],[14.6,0.42],[14.9,0.3],[15.3,0.15],[15.6,0.05],[15.8,-0.1],[16.1,-0.15],[16.4,0.05],[16.6,0.25],[16.8,0.3],[16.9,0.0],[17.1,-0.2],[17.2,-0.38],[17.5,-0.1],[17.7,0.2],[17.9,0.28],[18.1,0.15],[18.5,0.1],[18.9,0.2],[19.2,0.1],[19.4,0.0],[19.8,0.1],[20.2,0.15],[20.7,0.18],[21.1,0.15],[21.4,0.25],[21.8,0.1],[22.2,0.12],[22.9,0.2],[23.1,0.1],[23.4,0.0],[23.7,0.1],[24.0,0.2],[24.2,0.25],[24.6,0.2],[25.0,0.28],[25.3,0.3],[25.6,0.2],[26.0,0.1],[26.5,0.12],[27.1,0.1],[27.6,0.15],[28.0,0.18],[28.3,0.15],[28.7,0.0],[29.1,-0.05],[29.4,-0.05],[29.6,0.05],[29.9,0.1],[30.2,0.05],[30.6,0.1],[31.1,0.15],[31.5,0.2],[31.9,0.1],[32.2,-0.05],[32.5,0.05],[33.0,0.05],[33.6,0.08],[34.1,0.05],[34.6,0.04],[34.8,0.0],[34.9,0.03]];
const H_ADV: Pair[] = [[-1.6,0],[-1.0,0.02],[-0.5,0.0],[0,0.03],[0.5,0.02],[1.0,0.04],[1.5,0.03],[2.0,0.05],[2.3,0.12],[2.6,0.3],[2.8,0.38],[3.1,0.3],[3.4,0.25],[3.7,0.15],[3.9,0.05],[4.2,0.05],[4.5,0.15],[4.7,0.25],[4.9,0.18],[5.1,-0.03],[5.2,-0.1],[5.4,0.0],[5.6,0.12],[5.8,0.2],[6.1,0.22],[6.5,0.25],[6.8,0.22],[7.2,0.25],[7.6,0.2],[8.0,0.22],[8.4,0.25],[8.7,0.15],[9.0,0.05],[9.3,-0.05],[9.6,-0.13],[9.8,-0.1],[10.1,0.0],[10.4,0.02],[10.8,0.15],[11.1,0.25],[11.4,0.38],[11.6,0.44],[11.9,0.35],[12.3,0.25],[12.7,0.22],[13.1,0.25],[13.4,0.2],[13.8,0.28],[14.1,0.32],[14.4,0.45],[14.6,0.48],[14.9,0.35],[15.2,0.22],[15.5,0.15],[15.7,0.0],[16.0,-0.12],[16.3,0.1],[16.6,0.3],[16.8,0.37],[17.0,0.1],[17.1,-0.2],[17.2,-0.35],[17.4,-0.1],[17.6,0.2],[17.8,0.32],[18.1,0.2],[18.5,0.15],[18.8,0.25],[19.1,0.15],[19.4,0.02],[19.7,0.15],[20.1,0.2],[20.5,0.18],[20.9,0.22],[21.3,0.3],[21.6,0.15],[22.0,0.2],[22.5,0.18],[22.8,0.25],[23.1,0.15],[23.4,0.0],[23.7,0.15],[24.0,0.3],[24.3,0.25],[24.8,0.35],[25.1,0.4],[25.4,0.3],[25.8,0.2],[26.2,0.22],[26.6,0.18],[27.0,0.2],[27.4,0.22],[27.8,0.25],[28.2,0.2],[28.5,0.1],[28.8,0.08],[29.2,0.05],[29.6,0.1],[30.0,0.15],[30.4,0.18],[30.8,0.2],[31.2,0.22],[31.5,0.28],[31.8,0.2],[32.1,0.05],[32.4,0.15],[32.8,0.18],[33.2,0.15],[33.6,0.18],[34.0,0.15],[34.4,0.15],[34.7,0.1],[34.9,0.13]];
const H_DIF: Pair[] = [[-1.6,0],[2.5,0],[3.0,-0.02],[5.0,-0.04],[7.0,-0.05],[9.0,-0.06],[11.0,-0.05],[13.0,-0.05],[15.0,-0.06],[17.0,-0.05],[19.0,-0.03],[20.5,-0.03],[21.5,-0.05],[22.5,-0.04],[24.0,-0.05],[26.0,-0.06],[28.0,-0.07],[29.0,-0.09],[31.0,-0.09],[33.0,-0.08],[34.9,-0.08]];

// ---------- panel (i) ----------
const I_MADV: Pair[] = [[-1.6,0],[0,0],[1.1,-0.05],[1.9,-0.1],[2.4,0.15],[2.8,0.2],[3.5,0.0],[4.1,-0.5],[4.7,-0.45],[5.1,-0.35],[5.7,-0.4],[6.2,-0.35],[6.6,-0.5],[7.0,-0.8],[7.7,-0.9],[8.3,-1.2],[8.7,-1.25],[9.1,-1.2],[9.7,-1.3],[10.3,-1.15],[10.9,-1.2],[11.4,-1.2],[11.9,-1.5],[12.6,-1.35],[13.1,-1.65],[13.4,-1.8],[13.8,-1.6],[14.5,-1.5],[15.0,-1.95],[15.6,-1.75],[16.2,-1.7],[16.5,-1.75],[17.1,-1.65],[17.5,-1.8],[18.0,-2.0],[18.4,-2.05],[18.9,-2.1],[19.5,-2.0],[19.9,-1.9],[20.6,-2.1],[21.1,-2.3],[21.7,-2.35],[22.6,-2.45],[23.5,-2.6],[24.1,-2.5],[24.9,-2.3],[25.4,-2.5],[26.0,-2.45],[26.5,-2.4],[27.2,-2.35],[27.7,-2.4],[28.3,-2.5],[28.8,-2.9],[29.5,-2.95],[30.2,-3.05],[30.6,-3.1],[31.1,-2.9],[31.5,-2.9],[32.1,-2.7],[32.5,-2.8],[32.9,-2.95],[33.7,-2.75],[34.1,-2.85],[34.5,-2.95],[34.9,-2.85]];
const I_ZADV: Pair[] = [[-1.6,0],[0.8,0],[1.4,-0.1],[2.0,-0.25],[2.4,-0.3],[3.1,-0.25],[3.5,-0.2],[3.9,0.0],[4.3,0.2],[4.7,0.3],[5.1,0.45],[5.7,0.7],[6.1,0.55],[6.5,0.8],[6.9,1.0],[7.4,1.3],[7.9,1.25],[8.3,1.4],[8.5,1.5],[8.9,1.4],[9.5,1.2],[10.0,1.0],[10.6,0.85],[11.1,0.8],[11.6,0.85],[12.2,1.0],[12.7,0.8],[13.0,1.0],[13.4,1.45],[13.8,1.3],[14.3,1.35],[14.6,1.35],[15.0,1.55],[15.3,1.3],[15.8,1.0],[16.4,0.8],[16.8,0.65],[17.1,0.4],[17.5,0.6],[17.7,0.75],[18.1,0.9],[18.7,0.75],[19.1,0.6],[19.5,0.45],[20.0,0.4],[20.6,0.35],[21.4,0.4],[21.8,0.45],[22.3,0.7],[22.9,0.8],[23.4,0.9],[23.8,1.05],[24.4,0.9],[24.8,0.6],[25.2,0.6],[25.6,0.7],[26.0,0.5],[26.4,0.35],[26.8,0.25],[27.2,0.35],[27.6,0.5],[28.0,0.5],[28.4,0.65],[28.8,0.8],[29.4,0.7],[30.0,0.7],[30.4,0.65],[30.9,0.5],[31.3,0.65],[31.7,0.5],[32.2,0.45],[32.8,0.6],[33.2,0.45],[33.6,0.3],[34.0,0.35],[34.4,0.45],[34.8,0.35],[34.9,0.15]];
const I_VADV: Pair[] = [[-1.6,0],[0.5,0],[0.8,0.05],[1.4,0.2],[2.0,0.45],[2.3,0.55],[2.8,0.5],[3.5,0.55],[4.2,0.45],[4.7,0.4],[5.1,0.45],[5.5,0.05],[6.1,0.0],[7.0,0.0],[7.7,0.15],[8.3,0.3],[8.9,0.5],[9.5,0.6],[10.2,0.75],[11.0,0.85],[11.5,1.0],[12.0,1.05],[12.7,1.2],[13.1,1.25],[13.5,0.9],[14.1,0.95],[14.6,1.05],[15.2,1.1],[15.7,1.2],[16.1,1.25],[16.5,1.6],[17.1,1.9],[17.6,2.3],[18.1,2.15],[18.7,2.4],[19.2,2.55],[19.9,2.65],[20.4,2.7],[21.0,2.85],[21.4,2.85],[21.8,2.95],[22.3,2.7],[22.9,2.6],[23.5,2.65],[23.8,2.55],[24.2,2.45],[24.8,2.6],[25.3,2.7],[25.7,2.75],[26.3,2.95],[26.8,2.85],[27.3,2.8],[27.9,2.8],[28.3,2.7],[29.0,2.85],[29.6,3.0],[30.2,3.1],[30.6,3.2],[31.3,3.15],[31.7,3.05],[32.1,3.0],[32.8,3.05],[33.6,3.05],[34.4,3.1],[34.8,3.05]];

// zero reference line spans (data period)
const ZERO_13: Pair[] = [[T_START, 0], [T_END_13, 0]];
const ZERO_2: Pair[] = [[T_START, 0], [T_END_2, 0]];

// ---------- styles ----------
const RED = "#ff0000", BLUE = "#0000ff", YELLOW = "#ffff00", GREEN = "#00ff00", MAGENTA = "#ff00ff", CYAN = "#00ffff";
type Sty = { color: string; width: number; dash: number[] };
const S_ZERO: Sty = { color: "#000000", width: 2, dash: [] };
const S_TT1: Sty = { color: RED, width: 2, dash: [] };
const S_ADV1: Sty = { color: BLUE, width: 2, dash: [5, 3] };
const S_DIF1: Sty = { color: YELLOW, width: 2.6, dash: [] };
const S_MADV1: Sty = { color: GREEN, width: 1.3, dash: [4, 3] };
const S_ZADV1: Sty = { color: MAGENTA, width: 1, dash: [] };
const S_VADV1: Sty = { color: CYAN, width: 1.4, dash: [] };
const S_TT2: Sty = { color: RED, width: 1.6, dash: [] };
const S_ADV2: Sty = { color: BLUE, width: 2, dash: [6, 4] };
const S_DIF2: Sty = { color: YELLOW, width: 2, dash: [] };
const S_MADV3: Sty = { color: GREEN, width: 2, dash: [7, 5] };
const S_ZADV3: Sty = { color: MAGENTA, width: 1.8, dash: [6, 2, 2, 2] };
const S_VADV3: Sty = { color: CYAN, width: 1.8, dash: [6, 2, 2, 2] };

const FRAME_COLOR = "#8e8e8e";
const TICK_TEXT = "#3a3a3a";
const SANS = '"Liberation Sans", Arial, Helvetica, sans-serif';
const SERIF = '"Liberation Serif", "Times New Roman", serif';

const AXW = 56, AXH = 30, PADT = 12, PADR = 22, TL = 5;

const pairs = (p: Pair[]) => p.map(([x, y]) => ({ x, y }));
const uniform = (v: number[], start: number, end: number) =>
  v.map((y, i) => ({ x: start + (i * (end - start)) / (v.length - 1), y }));

type Series = { data: { x: number; y: number }[]; s: Sty };
type LegendItem = { label: string; s: Sty; x: number; y: number };
type Panel = {
  key: string; frame: [number, number, number, number]; xMax: number;
  yMin: number; yMax: number; yTicks: number[]; letter: string; letterDy: number;
  series: Series[]; legend: LegendItem[]; arrows?: number[][];
};

const legendTop = (): LegendItem[] => [
  { label: "TT", s: S_TT1, x: 25, y: 9 }, { label: "ADV", s: S_ADV1, x: 25, y: 20 }, { label: "DIF", s: S_DIF1, x: 25, y: 31 },
  { label: "MADV", s: S_MADV1, x: 78, y: 9 }, { label: "ZADV", s: S_ZADV1, x: 78, y: 20 }, { label: "VADV", s: S_VADV1, x: 78, y: 31 },
];
const legendMid = (): LegendItem[] => [
  { label: "TT", s: S_TT2, x: 25, y: 10 }, { label: "ADV", s: S_ADV2, x: 25, y: 21 }, { label: "DIF", s: S_DIF2, x: 25, y: 31 },
];
const legendBot = (): LegendItem[] => [
  { label: "MADV", s: S_MADV3, x: 16, y: 8 }, { label: "ZADV", s: S_ZADV3, x: 16, y: 19 }, { label: "VADV", s: S_VADV3, x: 16, y: 30 },
];

const COL_L = [60, 665, 1269];
const COL_W = [532, 533, 533];
const ROW_T = [38, 248, 456];
const ROW_H = [165, 163, 164];
const fr = (c: number, r: number): [number, number, number, number] => [COL_L[c], ROW_T[r], COL_W[c], ROW_H[r]];

const PANELS: Panel[] = [
  { key: "a", frame: fr(0, 0), xMax: X_MAX_13, yMin: -0.8, yMax: 0.8, yTicks: Y_TICKS_A, letter: "(a)", letterDy: 14, legend: legendTop(),
    series: [
      { data: pairs(ZERO_13), s: S_ZERO },
      { data: uniform(A_DIF, T_START, T_END_13), s: S_DIF1 },
      { data: uniform(A_VADV, T_START, T_END_13), s: S_VADV1 },
      { data: uniform(A_MADV, T_START, T_END_13), s: S_MADV1 },
      { data: uniform(A_ADV, T_START, T_END_13), s: S_ADV1 },
      { data: uniform(A_ZADV, T_START, T_END_13), s: S_ZADV1 },
      { data: uniform(A_TT, T_START, T_END_13), s: S_TT1 },
    ] },
  { key: "d", frame: fr(1, 0), xMax: X_MAX_2, yMin: -0.31, yMax: 0.31, yTicks: Y_TICKS_D, letter: "(d)", letterDy: 14, legend: legendTop(),
    series: [
      { data: pairs(ZERO_2), s: S_ZERO },
      { data: uniform(D_DIF, T_START, T_END_2), s: S_DIF1 },
      { data: uniform(D_VADV, T_START, T_END_2), s: S_VADV1 },
      { data: uniform(D_ZADV, T_START, T_END_2), s: S_ZADV1 },
      { data: uniform(D_MADV, T_START, T_END_2), s: S_MADV1 },
      { data: uniform(D_ADV, T_START, T_END_2), s: S_ADV1 },
      { data: uniform(D_TT, T_START, T_END_2), s: S_TT1 },
    ] },
  { key: "g", frame: fr(2, 0), xMax: X_MAX_13, yMin: -0.25, yMax: 0.25, yTicks: Y_TICKS_G, letter: "(g)", letterDy: 14, legend: legendTop(),
    series: [
      { data: pairs(ZERO_13), s: S_ZERO },
      { data: uniform(G_DIF, T_START, T_END_13), s: S_DIF1 },
      { data: uniform(G_VADV, T_START, T_END_13), s: S_VADV1 },
      { data: uniform(G_ZADV, T_START, T_END_13), s: S_ZADV1 },
      { data: uniform(G_MADV, T_START, T_END_13), s: S_MADV1 },
      { data: uniform(G_ADV, T_START, T_END_13), s: S_ADV1 },
      { data: uniform(G_TT, T_START, T_END_13), s: S_TT1 },
    ] },
  { key: "b", frame: fr(0, 1), xMax: X_MAX_13, yMin: -4, yMax: 4, yTicks: Y_TICKS_B, letter: "(b)", letterDy: 13, legend: legendMid(), arrows: B_ARROWS,
    series: [
      { data: pairs(ZERO_13), s: S_ZERO },
      { data: pairs(B_ADV), s: S_ADV2 },
      { data: pairs(B_TT), s: S_TT2 },
      { data: pairs(B_DIF), s: S_DIF2 },
    ] },
  { key: "e", frame: fr(1, 1), xMax: X_MAX_2, yMin: -1, yMax: 1, yTicks: Y_TICKS_EH, letter: "(e)", letterDy: 13, legend: legendMid(),
    series: [
      { data: pairs(ZERO_2), s: S_ZERO },
      { data: pairs(E_ADV), s: S_ADV2 },
      { data: pairs(E_TT), s: S_TT2 },
      { data: pairs(E_DIF), s: S_DIF2 },
    ] },
  { key: "h", frame: fr(2, 1), xMax: X_MAX_13, yMin: -1, yMax: 1, yTicks: Y_TICKS_EH, letter: "(h)", letterDy: 13, legend: legendMid(),
    series: [
      { data: pairs(ZERO_13), s: S_ZERO },
      { data: pairs(H_ADV), s: S_ADV2 },
      { data: pairs(H_TT), s: S_TT2 },
      { data: pairs(H_DIF), s: S_DIF2 },
    ] },
  { key: "c", frame: fr(0, 2), xMax: X_MAX_13, yMin: -25, yMax: 25, yTicks: Y_TICKS_C, letter: "(c)", letterDy: 18, legend: legendBot(),
    series: [
      { data: pairs(ZERO_13), s: S_ZERO },
      { data: pairs(C_VADV), s: S_VADV3 },
      { data: pairs(C_ZADV), s: S_ZADV3 },
      { data: pairs(C_MADV), s: S_MADV3 },
    ] },
  { key: "f", frame: fr(1, 2), xMax: X_MAX_2, yMin: -4, yMax: 4, yTicks: Y_TICKS_FI, letter: "(f)", letterDy: 18, legend: legendBot(),
    series: [
      { data: pairs(ZERO_2), s: S_ZERO },
      { data: pairs(F_VADV), s: S_VADV3 },
      { data: pairs(F_ZADV), s: S_ZADV3 },
      { data: pairs(F_MADV), s: S_MADV3 },
    ] },
  { key: "i", frame: fr(2, 2), xMax: X_MAX_13, yMin: -4, yMax: 4, yTicks: Y_TICKS_FI, letter: "(i)", letterDy: 18, legend: legendBot(),
    series: [
      { data: pairs(ZERO_13), s: S_ZERO },
      { data: pairs(I_VADV), s: S_VADV3 },
      { data: pairs(I_ZADV), s: S_ZADV3 },
      { data: pairs(I_MADV), s: S_MADV3 },
    ] },
];

const TITLES = [
  { text: "0-25m", col: 0 },
  { text: "25-60m", col: 1 },
  { text: "60-120m", col: 2 },
];

const fmtY = (v: number) => (v < 0 ? "\u2212" : "") + String(Math.abs(Math.round(v * 100) / 100));

const decoPlugin = {
  id: "deco",
  afterDraw(chart: any) {
    const o = chart.options.plugins.deco as Panel;
    const ctx: CanvasRenderingContext2D = chart.ctx;
    const a = chart.chartArea;
    const xs = chart.scales.x, ys = chart.scales.y;
    ctx.save();
    if (o.arrows) {
      ctx.strokeStyle = "#000"; ctx.fillStyle = "#000"; ctx.lineWidth = 1.5; ctx.setLineDash([]);
      for (const [m0, v0, m1, v1] of o.arrows) {
        const x0 = xs.getPixelForValue(m0), y0 = ys.getPixelForValue(v0);
        const x1 = xs.getPixelForValue(m1), y1 = ys.getPixelForValue(v1);
        const ang = Math.atan2(y1 - y0, x1 - x0);
        const hl = 8, hw = 3.5;
        const bx = x1 - hl * Math.cos(ang), by = y1 - hl * Math.sin(ang);
        ctx.beginPath(); ctx.moveTo(x0, y0); ctx.lineTo(bx, by); ctx.stroke();
        ctx.beginPath();
        ctx.moveTo(x1, y1);
        ctx.lineTo(bx + hw * Math.sin(ang), by - hw * Math.cos(ang));
        ctx.lineTo(bx - hw * Math.sin(ang), by + hw * Math.cos(ang));
        ctx.closePath(); ctx.fill();
      }
    }
    ctx.strokeStyle = FRAME_COLOR; ctx.lineWidth = 1; ctx.setLineDash([]);
    ctx.beginPath();
    for (const v of X_TICKS) {
      const px = Math.round(xs.getPixelForValue(v)) + 0.5;
      if (px < a.left || px > a.right) continue;
      ctx.moveTo(px, a.bottom); ctx.lineTo(px, a.bottom - TL);
      ctx.moveTo(px, a.top); ctx.lineTo(px, a.top + TL);
    }
    for (const v of o.yTicks) {
      const py = Math.round(ys.getPixelForValue(v)) + 0.5;
      ctx.moveTo(a.left, py); ctx.lineTo(a.left + TL, py);
      ctx.moveTo(a.right, py); ctx.lineTo(a.right - TL, py);
    }
    ctx.stroke();
    ctx.strokeRect(Math.round(a.left) + 0.5, Math.round(a.top) + 0.5, Math.round(a.right - a.left) - 1, Math.round(a.bottom - a.top) - 1);
    ctx.fillStyle = "#000";
    ctx.font = `14px ${SANS}`;
    ctx.textAlign = "right"; ctx.textBaseline = "middle";
    ctx.fillText(o.letter, a.right - 9, a.top + o.letterDy);
    ctx.font = `10px ${SANS}`;
    ctx.textAlign = "left";
    for (const e of o.legend) {
      ctx.strokeStyle = e.s.color; ctx.lineWidth = e.s.width; ctx.setLineDash(e.s.dash);
      ctx.beginPath();
      ctx.moveTo(a.left + e.x, a.top + e.y + 0.5); ctx.lineTo(a.left + e.x + 17, a.top + e.y + 0.5);
      ctx.stroke();
      ctx.fillStyle = "#1e1e1e";
      ctx.fillText(e.label, a.left + e.x + 19, a.top + e.y + 0.5);
    }
    ctx.restore();
  },
};

function buildConfig(p: Panel): any {
  return {
    type: "line",
    data: {
      datasets: p.series.map((s) => ({
        data: s.data,
        borderColor: s.s.color,
        borderWidth: s.s.width,
        borderDash: s.s.dash,
        borderJoinStyle: "round",
        pointRadius: 0,
        pointHoverRadius: 0,
        fill: false,
        tension: 0,
      })),
    },
    options: {
      animation: false,
      responsive: false,
      maintainAspectRatio: false,
      events: [],
      layout: { padding: { top: PADT, right: PADR, left: 0, bottom: 0 } },
      plugins: { legend: { display: false }, tooltip: { enabled: false }, title: { display: false }, deco: p },
      scales: {
        x: {
          type: "linear", min: X_MIN, max: p.xMax,
          grid: { display: false, drawTicks: false }, border: { display: false },
          afterBuildTicks: (s: any) => { s.ticks = X_TICKS.map((value) => ({ value })); },
          afterFit: (s: any) => { s.height = AXH; },
          ticks: {
            autoSkip: false, maxRotation: 0, minRotation: 0, padding: 4, color: TICK_TEXT,
            font: { family: SANS, size: 11 },
            callback: (v: number) => { const i = X_TICKS.indexOf(v); return i >= 0 ? X_TICK_LABELS[i] : ""; },
          },
        },
        y: {
          type: "linear", min: p.yMin, max: p.yMax,
          grid: { display: false, drawTicks: false }, border: { display: false },
          afterBuildTicks: (s: any) => { s.ticks = p.yTicks.map((value) => ({ value })); },
          afterFit: (s: any) => { s.width = AXW; },
          ticks: { padding: 6, color: TICK_TEXT, font: { family: SANS, size: 11 }, callback: (v: number) => fmtY(v) },
        },
      },
    },
    plugins: [decoPlugin],
  };
}

function PanelChart({ panel }: { panel: Panel }) {
  const ref = useRef<HTMLCanvasElement>(null);
  const [l, t, w, h] = panel.frame;
  const cw = w + AXW + PADR, ch = h + PADT + AXH;
  useEffect(() => {
    if (!ref.current) return;
    const chart = new Chart(ref.current, buildConfig(panel));
    return () => chart.destroy();
  }, [panel]);
  return (
    <canvas ref={ref} width={cw} height={ch}
      style={{ position: "absolute", left: l - AXW, top: t - PADT, width: cw, height: ch }} />
  );
}

export default function App() {
  return (
    <div style={{ position: "absolute", left: 0, top: 0, width: 1827, height: 675, background: "#ffffff", overflow: "hidden" }}>
      {PANELS.map((p) => <PanelChart key={p.key} panel={p} />)}
      {TITLES.map((t) => (
        <div key={t.text} style={{
          position: "absolute", left: COL_L[t.col] + COL_W[t.col] / 2, top: 10, transform: "translateX(-50%)",
          fontFamily: SERIF, fontSize: 24, lineHeight: "24px", color: "#000", whiteSpace: "nowrap",
        }}>{t.text}</div>
      ))}
      <div style={{
        position: "absolute", left: 23, top: 339, transform: "translate(-50%, -50%) rotate(-90deg)",
        fontFamily: SERIF, fontSize: 30, lineHeight: "30px", color: "#000", whiteSpace: "nowrap",
      }}>°C/day</div>
      <div style={{
        position: "absolute", left: 936, top: 646, transform: "translateX(-50%)",
        fontFamily: SERIF, fontSize: 26, lineHeight: "26px", color: "#000", whiteSpace: "nowrap",
      }}>Time</div>
    </div>
  );
}
